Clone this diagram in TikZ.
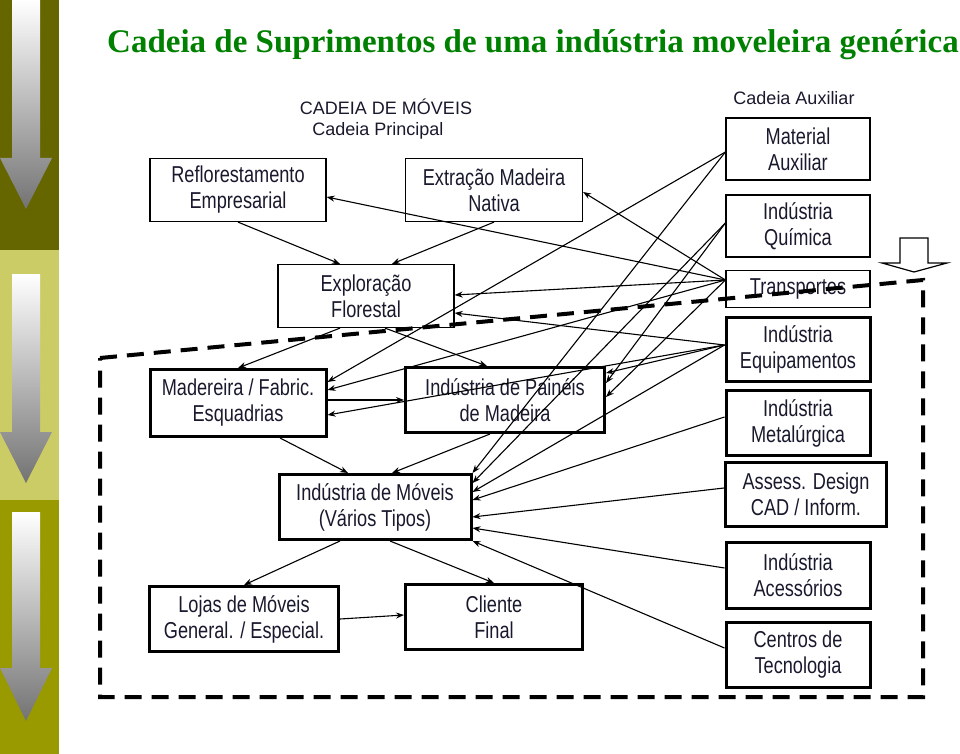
\documentclass[tikz,border=0pt]{standalone}
\usepackage{fontspec}
\setmainfont{Liberation Sans}
\newfontfamily\narrowfont[FakeStretch=0.79]{Liberation Sans}
\newfontfamily\titlefont{Liberation Serif}
\usepackage{xcolor}
\usepackage{tikz}
\usetikzlibrary{shapes,arrows.meta,positioning}
\definecolor{titlegreen}{RGB}{0,128,0}
\definecolor{barDark}{RGB}{102,102,0}
\definecolor{barLight}{RGB}{204,204,102}
\definecolor{barMid}{RGB}{153,153,0}
\definecolor{inkblue}{RGB}{25,25,45}

\begin{document}
\begin{tikzpicture}[
    x=1pt, y=-1pt,
    box/.style={rectangle, draw=black, line width=1.2pt, align=center, inner sep=0pt, text=inkblue, font=\narrowfont\fontsize{23}{26}\selectfont},
    heavybox/.style={box, line width=3pt},
    heading/.style={align=center, text=inkblue, font=\fontsize{18}{24}\selectfont},
    arrow/.style={-{Stealth[length=8pt,width=6pt]}, line width=1.1pt},
    bararrow/.style={top color=white, bottom color=gray!90!black, draw=none},
    region/.style={draw=black, line width=4pt, dash pattern=on 17pt off 10pt}
]

\useasboundingbox (0,0) rectangle (960,754);

% Side bar
\fill[barDark] (0,0) rectangle (59,250);
\fill[barLight] (0,250) rectangle (59,500);
\fill[barMid] (0,500) rectangle (59,754);
\shade[bararrow] (12,0) -- (40,0) -- (40,158) -- (52,158) -- (26,209) -- (0,158) -- (12,158) -- cycle;
\shade[bararrow] (12,274) -- (40,274) -- (40,432) -- (52,432) -- (26,483) -- (0,432) -- (12,432) -- cycle;
\shade[bararrow] (12,512) -- (40,512) -- (40,668) -- (52,668) -- (26,721) -- (0,668) -- (12,668) -- cycle;

% Title and headings
\node [font=\titlefont\bfseries\fontsize{33}{38}\selectfont, text=titlegreen] (title) at (533,45) {Cadeia de Suprimentos de uma indústria moveleira genérica};
\node [heading] (chainA) at (386,107) {CADEIA DE MÓVEIS};
\node [heading] (chainB) at (378,131) {Cadeia Principal};
\node [heading] (auxlbl) at (794,98) {Cadeia Auxiliar};

% Nodes - main chain
\node [box, minimum width=176pt, minimum height=63pt] (refl) at (238,190) {Reflorestamento\\Empresarial};
\node [box, minimum width=177pt, minimum height=63pt] (extr) at (494,190) {Extração Madeira\\Nativa};
\node [box, minimum width=176pt, minimum height=63pt] (explor) at (366,296) {Exploração\\Florestal};
\node [heavybox, minimum width=176pt, minimum height=67pt] (mad) at (238,403) {Madereira / Fabric.\\Esquadrias};
\node [heavybox, minimum width=199pt, minimum height=65pt] (painel) at (505,400) {Indústria de Painéis\\de Madeira};
\node [heavybox, minimum width=192pt, minimum height=65pt] (moveis) at (375,507) {Indústria de Móveis\\(Vários Tipos)};
\node [heavybox, minimum width=189pt, minimum height=65pt] (lojas) at (244,619) {Lojas de Móveis\\General. / Especial.};
\node [heavybox, minimum width=177pt, minimum height=65pt] (cliente) at (494,617) {Cliente\\Final};

% Nodes - auxiliary chain
\node [box, minimum width=144pt, minimum height=62pt] (mat) at (798,149) {Material\\Auxiliar};
\node [box, minimum width=144pt, minimum height=62pt] (quim) at (798,226) {Indústria\\Química};
\node [box, minimum width=144pt, minimum height=37pt] (trans) at (798,289) {Transportes};
\node [heavybox, minimum width=144pt, minimum height=64pt] (equip) at (798,349) {Indústria\\Equipamentos};
\node [heavybox, minimum width=144pt, minimum height=65pt] (metal) at (798,423) {Indústria\\Metalúrgica};
\node [heavybox, minimum width=161pt, minimum height=64pt] (assess) at (806,494) {Assess. Design\\CAD / Inform.};
\node [heavybox, minimum width=144pt, minimum height=66pt] (acess) at (798,575) {Indústria\\Acessórios};
\node [heavybox, minimum width=144pt, minimum height=65pt] (centros) at (798,655) {Centros de\\Tecnologia};

% Region and big arrow
\draw [region] (100,358) -- (923,280) -- (923,697) -- (100,697) -- cycle;
\draw [line width=1.2pt, fill=white] (900,238) -- (928,238) -- (928,263) -- (947,263) -- (914,272) -- (882,263) -- (900,263) -- cycle;

% Arrows - main chain
\draw [arrow] (refl.south) -- ([xshift=-26pt]explor.north);
\draw [arrow] (extr.south) -- ([xshift=26pt]explor.north);
\draw [arrow] ([xshift=-26pt]explor.south) -- (mad.north);
\draw [arrow] ([xshift=19pt]explor.south) -- ([xshift=-18pt]painel.north);
\draw [arrow] ([yshift=3pt]mad.east) -- (painel.west);
\draw [arrow] ([xshift=42pt]mad.south) -- ([xshift=-27pt]moveis.north);
\draw [arrow] ([xshift=-15pt]painel.south) -- ([xshift=17pt]moveis.north);
\draw [arrow] ([xshift=-35pt]moveis.south) -- (lojas.north);
\draw [arrow] ([xshift=15pt]moveis.south) -- (cliente.north);
\draw [arrow] (lojas.east) -- ([yshift=2pt]cliente.west);

% Arrows - auxiliary chain
\draw [arrow] ([yshift=9pt]trans.west) -- ([yshift=-7pt]refl.east);
\draw [arrow] ([yshift=9pt]trans.west) -- ([yshift=-2pt]extr.east);
\draw [arrow] ([yshift=9pt]trans.west) -- ([yshift=1pt]explor.east);
\draw [arrow] ([yshift=4pt]equip.west) -- ([yshift=-17pt]explor.east);
\draw [arrow] ([yshift=-3pt]mat.west) -- ([yshift=21pt]mad.east);
\draw [arrow] ([yshift=9pt]trans.west) -- ([yshift=13pt]mad.east);
\draw [arrow] ([yshift=4pt]equip.west) -- ([yshift=-12pt]mad.east);
\draw [arrow] ([yshift=4pt]equip.west) -- ([yshift=27pt]painel.east);
\draw [arrow] ([yshift=3pt]quim.west) -- ([yshift=17pt]painel.east);
\draw [arrow] ([yshift=9pt]trans.west) -- ([yshift=3pt]painel.east);
\draw [arrow] ([yshift=-3pt]mat.west) -- (moveis.north east);
\draw [arrow] ([yshift=3pt]quim.west) -- ([yshift=24pt]moveis.east);
\draw [arrow] ([yshift=4pt]equip.west) -- ([yshift=15pt]moveis.east);
\draw [arrow] ([yshift=6pt]metal.west) -- ([yshift=7pt]moveis.east);
\draw [arrow] ([yshift=6pt]assess.west) -- ([yshift=-10pt]moveis.east);
\draw [arrow] ([yshift=7pt]acess.west) -- ([yshift=-21pt]moveis.east);
\draw [arrow] ([yshift=7pt]centros.west) -- (moveis.south east);

\end{tikzpicture}
\end{document}
